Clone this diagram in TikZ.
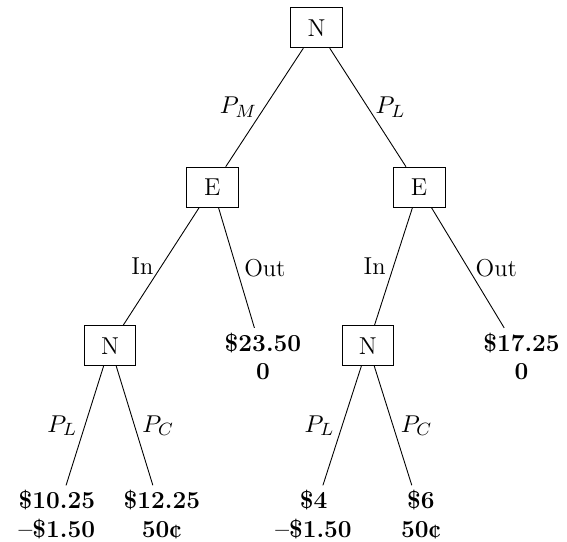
\documentclass[tikz,border=0pt]{standalone}
\usepackage{tikz}
\begin{document}
\begin{tikzpicture}[font=\fontsize{11}{13}\selectfont,
  box/.style={draw,minimum width=0.82cm,minimum height=0.63cm,inner sep=2pt},
  pay/.style={align=center,font=\fontsize{11}{13}\selectfont\bfseries,inner sep=2pt}]
\useasboundingbox (-5.01,0.44) rectangle (3.96,-8.13);
\node[box] (root) at (0,0) {N};
\node[box] (eL) at (-1.65,-2.52) {E};
\node[box] (eR) at (1.62,-2.52) {E};
\node[box] (nL) at (-3.27,-5.03) {N};
\node[box] (nR) at (0.81,-5.03) {N};
\node[pay] (oL) at (-0.85,-5.2) {\$23.50\\0};
\node[pay] (oR) at (3.24,-5.2) {\$17.25\\0};
\node[pay] (a1) at (-4.11,-7.7) {\$10.25\\--\$1.50};
\node[pay] (a2) at (-2.45,-7.7) {\$12.25\\50¢};
\node[pay] (b1) at (-0.05,-7.7) {\$4\\--\$1.50};
\node[pay] (b2) at (1.65,-7.7) {\$6\\50¢};
\foreach \a/\b/\s/\t in {root/eL/left/$P_M$,root/eR/right/$P_L$,
  eL/nL/left/In,eL/oL/right/Out,eR/nR/left/In,eR/oR/right/Out,
  nL/a1/left/$P_L$,nL/a2/right/$P_C$,nR/b1/left/$P_L$,nR/b2/right/$P_C$}
  \draw (\a) -- node[\s] {\t} (\b);
\end{tikzpicture}
\end{document}
